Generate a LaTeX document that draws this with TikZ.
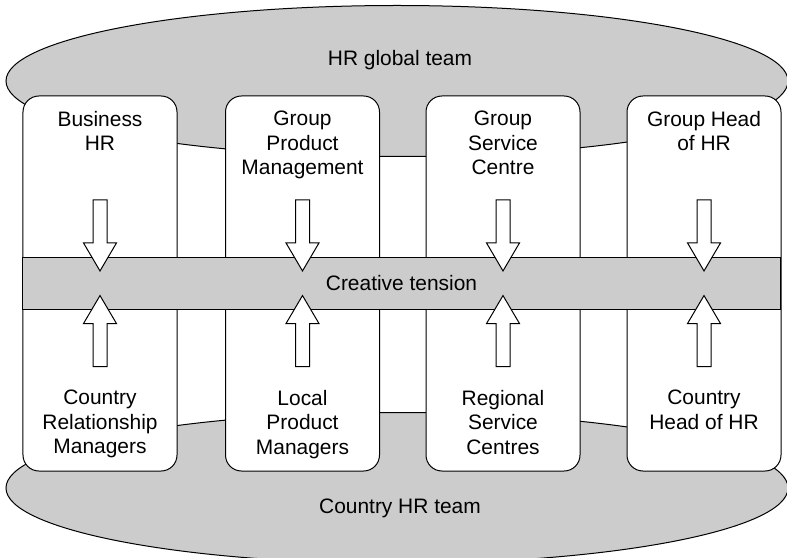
\documentclass[tikz,border=0pt]{standalone}
\usepackage{fontspec}
\setmainfont{Liberation Sans}
\usetikzlibrary{shapes.geometric, shapes.arrows, positioning}
\definecolor{hrgray}{gray}{0.8}
\tikzstyle{team} = [ellipse, draw=black, fill=hrgray, line width=1bp, minimum width=782bp, minimum height=151bp, inner sep=0pt]
\tikzstyle{unit} = [rectangle, rounded corners=16bp, draw=black, fill=white, line width=1bp, minimum width=154bp, minimum height=375bp, inner sep=0pt]
\tikzstyle{band} = [rectangle, draw=black, fill=hrgray, line width=1bp, minimum width=757bp, minimum height=51bp, inner sep=0pt]
\tikzstyle{push} = [single arrow, draw=black, fill=white, line width=1bp, minimum height=71bp, inner xsep=0pt, inner ysep=6.5bp, single arrow head extend=9.5bp, single arrow tip angle=61]
\tikzstyle{txt} = [align=center, inner sep=0pt, font=\fontsize{21}{24.5}\selectfont]

\begin{document}
\begin{tikzpicture}[x=1bp, y=-1bp]
    \useasboundingbox (0,0) rectangle (787,558);
    \clip (0,0) rectangle (787,558);

    \node[team] (global) at (397,81) {};
    \node[team] (country) at (397,488) {};

    \node[unit] (u1) at (100,283.5) {};
    \node[unit] (u2) at (302.5,283.5) {};
    \node[unit] (u3) at (503,283.5) {};
    \node[unit] (u4) at (704,283.5) {};

    \node[band] (tension) at (401.5,283.5) {};

    \node[push, rotate=-90] (down1) at (100,229.5) {};
    \node[push, rotate=-90] (down2) at (302.5,229.5) {};
    \node[push, rotate=-90] (down3) at (503,229.5) {};
    \node[push, rotate=-90] (down4) at (704,229.5) {};

    \node[push, rotate=90] (up1) at (100,337) {};
    \node[push, rotate=90] (up2) at (302.5,337) {};
    \node[push, rotate=90] (up3) at (503,337) {};
    \node[push, rotate=90] (up4) at (704,337) {};

    \node[txt, anchor=base] (global-l) at (400,66) {HR global team};
    \node[txt] (tension-l) at (tension) {Creative tension};
    \node[txt, anchor=base] (country-l) at (400,513) {Country HR team};

    \node[txt, below=15.5bp of u1.north] (top-1) {Business\\HR};
    \node[txt, below=15.5bp of u2.north] (top-2) {Group\\Product\\Management};
    \node[txt, below=15.5bp of u3.north] (top-3) {Group\\Service\\Centre};
    \node[txt, below=15.5bp of u4.north] (top-4) {Group Head\\of HR};

    \node[txt, below=294.5bp of u1.north] (bottom-1) {Country\\Relationship\\Managers};
    \node[txt, below=294.5bp of u2.north] (bottom-2) {Local\\Product\\Managers};
    \node[txt, below=294.5bp of u3.north] (bottom-3) {Regional\\Service\\Centres};
    \node[txt, below=294.5bp of u4.north] (bottom-4) {Country\\Head of HR};

\end{tikzpicture}
\end{document}
